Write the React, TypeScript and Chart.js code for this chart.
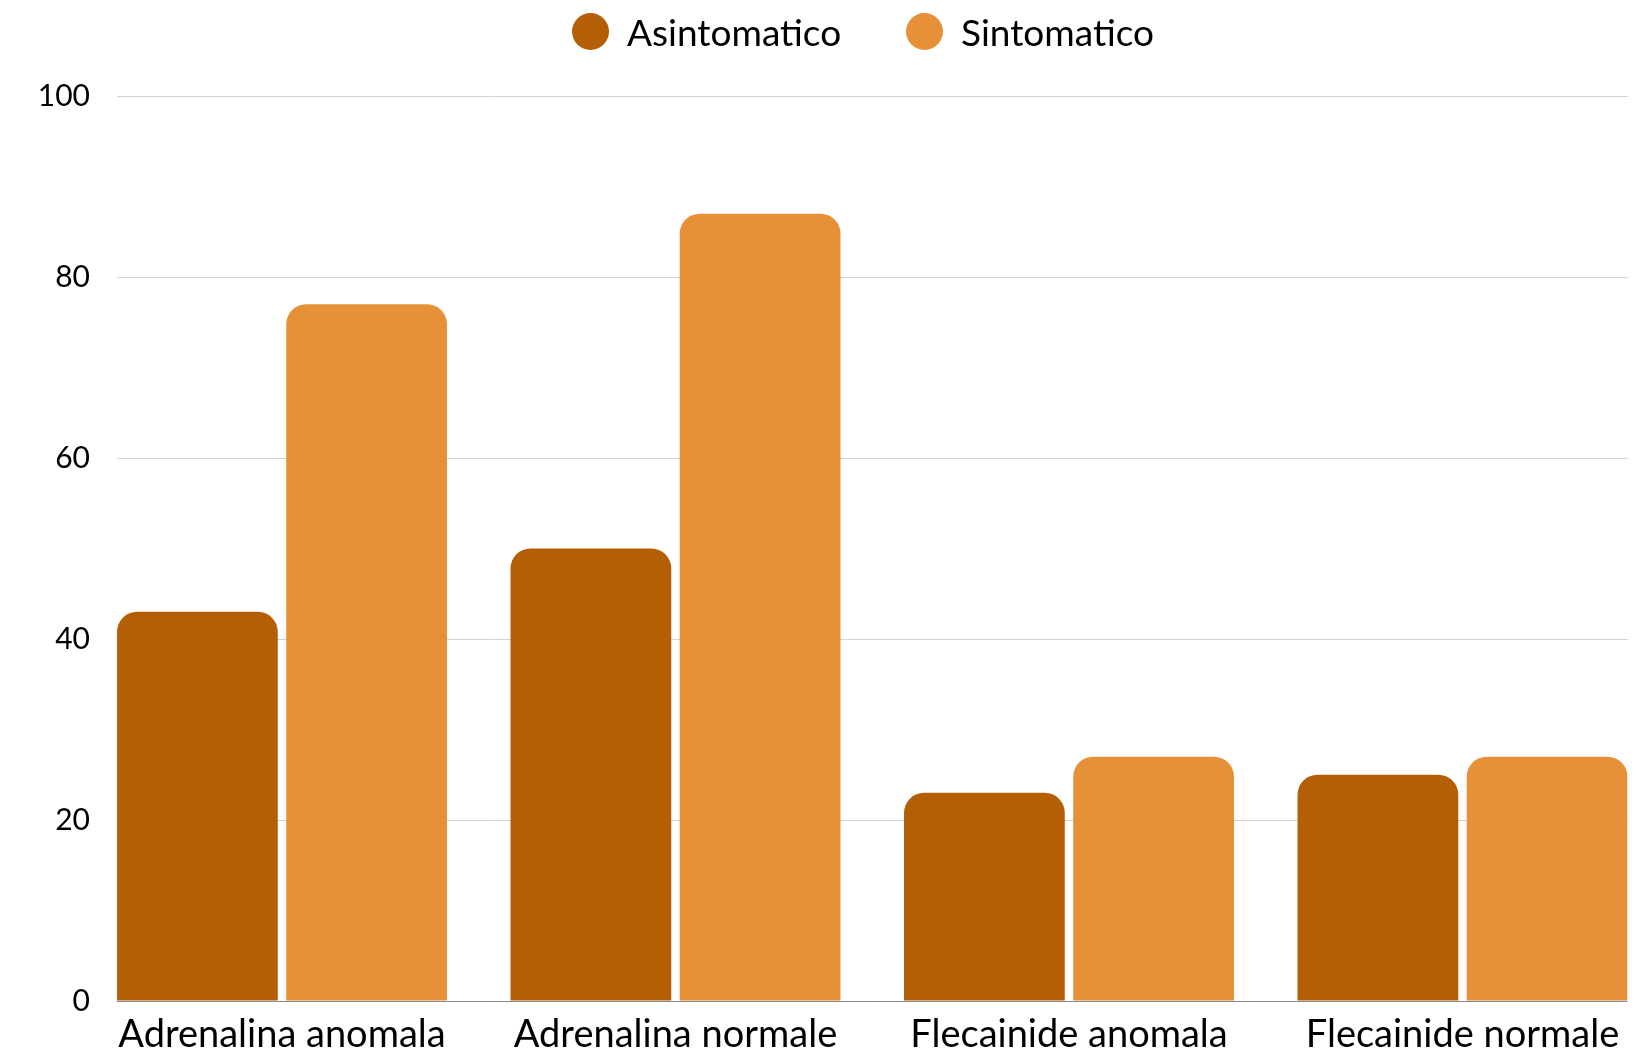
import React, { useEffect, useRef } from "react";
import { Chart, registerables } from "chart.js";

Chart.register(...registerables);

// Chart data
const categories: string[] = [
  "Adrenalina anomala",
  "Adrenalina normale",
  "Flecainide anomala",
  "Flecainide normale",
];
const asintomaticoValues: number[] = [43, 50, 23, 25];
const sintomaticoValues: number[] = [77, 87, 27, 27];
const seriesNames: string[] = ["Asintomatico", "Sintomatico"];
const yTicks: number[] = [0, 20, 40, 60, 80, 100];

const DARK = "#B45F06";
const LIGHT = "#E69138";
const FONT = "Lato, 'Open Sans', sans-serif";

const W = 1638;
const H = 1060;

export default function App() {
  const canvasRef = useRef<HTMLCanvasElement | null>(null);

  useEffect(() => {
    const canvas = canvasRef.current;
    if (!canvas) return;

    const toPoints = (vals: number[]) => vals.map((v, i) => ({ x: i, y: v }));
    const topRound = { topLeft: 20, topRight: 20, bottomLeft: 0, bottomRight: 0 };

    const chart = new Chart(canvas, {
      type: "bar",
      data: {
        datasets: [
          {
            label: seriesNames[0],
            data: toPoints(asintomaticoValues),
            backgroundColor: DARK,
            borderWidth: 0,
            borderRadius: topRound,
            borderSkipped: "bottom",
          },
          {
            label: seriesNames[1],
            data: toPoints(sintomaticoValues),
            backgroundColor: LIGHT,
            borderWidth: 0,
            borderRadius: topRound,
            borderSkipped: "bottom",
          },
        ],
      },
      options: {
        responsive: false,
        animation: false,
        devicePixelRatio: 1,
        categoryPercentage: 0.86,
        barPercentage: 0.95,
        layout: { padding: { top: 96, right: 10.5, bottom: 0, left: 0 } },
        plugins: {
          legend: { display: false },
          tooltip: { enabled: false },
        },
        scales: {
          x: {
            type: "linear",
            offset: false,
            min: -0.4193,
            max: 3.4193,
            grid: { display: false, drawTicks: false, offset: false },
            border: { display: false },
            afterBuildTicks: (axis: any) => {
              axis.ticks = categories.map((_, i) => ({ value: i }));
            },
            afterFit: (axis: any) => {
              axis.height = H - 1001;
            },
            ticks: {
              autoSkip: false,
              maxRotation: 0,
              minRotation: 0,
              padding: 11,
              color: "#000",
              font: { family: FONT, size: 38 },
              callback: (v: any) => categories[Math.round(Number(v))] ?? "",
            },
          },
          y: {
            min: 0,
            max: 100,
            afterBuildTicks: (axis: any) => {
              axis.ticks = yTicks.map((v) => ({ value: v }));
            },
            afterFit: (axis: any) => {
              axis.width = 117;
            },
            grid: {
              drawTicks: false,
              lineWidth: 1,
              color: (ctx: any) => (ctx.tick && ctx.tick.value === 0 ? "#8a8a8a" : "#d3d3d3"),
            },
            border: { display: false },
            ticks: {
              padding: 27,
              color: "#000",
              font: { family: FONT, size: 30 },
            },
          },
        },
      },
    });

    return () => chart.destroy();
  }, []);

  const legendItem = (name: string, color: string, left: number) => (
    <div
      key={name}
      style={{
        position: "absolute",
        left,
        top: 13,
        height: 37,
        display: "flex",
        alignItems: "center",
        fontFamily: FONT,
        fontSize: 37,
        color: "#000",
        whiteSpace: "nowrap",
      }}
    >
      <span
        style={{
          display: "inline-block",
          width: 37,
          height: 37,
          borderRadius: "50%",
          background: color,
          marginRight: 18,
        }}
      />
      <span style={{ lineHeight: "37px" }}>{name}</span>
    </div>
  );

  return (
    <div
      style={{
        position: "fixed",
        left: 0,
        top: 0,
        width: W,
        height: 1051,
        overflow: "hidden",
        background: "#fff",
      }}
    >
      <canvas ref={canvasRef} width={W} height={H} style={{ display: "block", width: W, height: H }} />
      {legendItem(seriesNames[0], DARK, 572)}
      {legendItem(seriesNames[1], LIGHT, 906)}
    </div>
  );
}
